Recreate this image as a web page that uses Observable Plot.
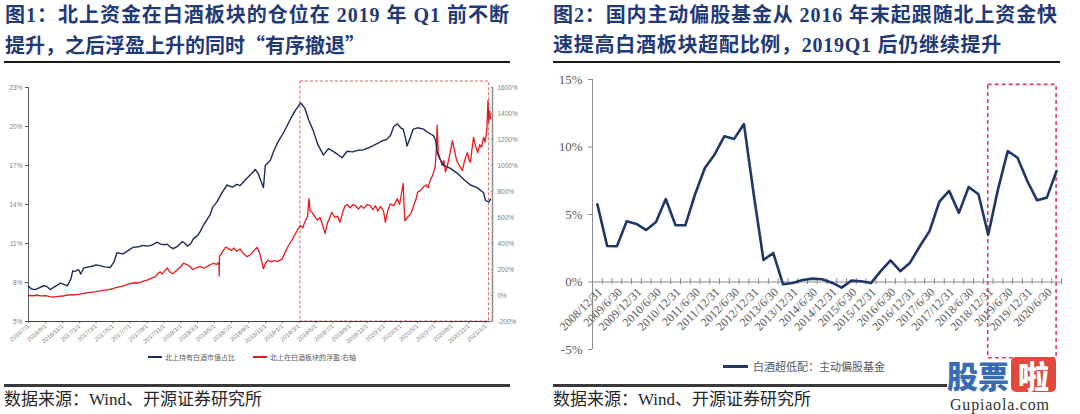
<!DOCTYPE html>
<html><head><meta charset="utf-8">
<script src="https://cdn.jsdelivr.net/npm/d3@7"></script>
<script src="https://cdn.jsdelivr.net/npm/@observablehq/plot@0.6"></script>
<style>
body{margin:0;background:#fff}
#root{position:relative;width:1080px;height:414px;overflow:hidden;background:#fff}
.abs{position:absolute}
.t{position:absolute;white-space:nowrap;font-family:"Liberation Serif","Noto Sans CJK SC",serif;font-weight:700;font-size:20px;line-height:24px;color:#1f3a76}
.cjk{font-family:"Noto Sans CJK SC",sans-serif}
.rule{position:absolute;background:#1a1a1a}
.src{position:absolute;white-space:nowrap;font-family:"Liberation Serif","Noto Sans CJK SC",serif;font-size:17px;line-height:20px;color:#262626}
.lg{position:absolute;white-space:nowrap;font-family:"Noto Sans CJK SC",sans-serif;color:#595959}
</style></head>
<body><div id="root">
<span class="t fit" data-w="505" style="left:5px;top:3px">图1：北上资金在白酒板块的仓位在 2019 年 Q1 前不断</span>
<span class="t fit" data-w="360" style="left:5px;top:33px">提升，之后浮盈上升的同时<span class="cjk">“</span>有序撤退<span class="cjk">”</span></span>
<span class="t fit" data-w="505" style="left:553px;top:3px">图2：国内主动偏股基金从 2016 年末起跟随北上资金快</span>
<span class="t fit" data-w="449" style="left:553px;top:33px">速提高白酒板块超配比例，2019Q1 后仍继续提升</span>
<div class="rule" style="left:4px;top:61px;width:506px;height:2px"></div>
<div class="rule" style="left:553px;top:61px;width:507px;height:2px"></div>
<div id="left" class="abs" style="left:0;top:70px"></div>
<div id="right" class="abs" style="left:540px;top:70px"></div>
<div class="abs" style="left:148px;top:356px;width:14px;height:1.5px;background:#1c2b5a"></div>
<span class="lg" style="left:165px;top:351px;font-size:7px;line-height:12px">北上持有白酒市值占比</span>
<div class="abs" style="left:253px;top:356px;width:14px;height:1.5px;background:#e8191c"></div>
<span class="lg" style="left:270px;top:351px;font-size:7px;line-height:12px">北上在白酒板块的浮盈:右轴</span>
<div class="abs" style="left:723px;top:365px;width:25px;height:3px;background:#1f3868"></div>
<span class="lg" style="left:753px;top:359px;font-size:11px;line-height:14px">白酒超低配：主动偏股基金</span>
<div class="rule" style="left:4px;top:384px;width:506px;height:2.5px;background:#3a3a3a"></div>
<div class="rule" style="left:553px;top:384px;width:394px;height:2.5px;background:#3a3a3a"></div>
<span class="src" style="left:4px;top:390px">数据来源：Wind、开源证券研究所</span>
<span class="src" style="left:553px;top:390px">数据来源：Wind、开源证券研究所</span>
<div class="abs" style="left:947px;top:357px;height:36px;white-space:nowrap;font-family:'Noto Sans CJK SC';font-weight:900;font-size:31px;line-height:36px;color:#3a6cb3">股票<span style="display:inline-block;background:#e2493c;color:#fff;border-radius:5px;width:45px;height:35px;line-height:35px;text-align:center;margin-left:2px;vertical-align:top">啦</span></div>
<span class="abs" style="left:950px;top:396px;white-space:nowrap;font-family:'Liberation Serif';font-size:16px;line-height:17px;color:#333;letter-spacing:0.8px">Gupiaola.com</span>
</div>
<script>
// ---------- Figure 1 data ----------
const blueDates = ["2016-07-01","2016-07-12","2016-07-25","2016-08-10","2016-08-25","2016-09-05","2016-09-18","2016-10-01","2016-10-24","2016-11-05","2016-11-18","2016-12-01","2016-12-07","2016-12-15","2016-12-28","2017-01-05","2017-01-15","2017-02-01","2017-02-15","2017-03-01","2017-03-15","2017-04-01","2017-04-21","2017-05-05","2017-05-15","2017-05-25","2017-06-06","2017-06-20","2017-07-12","2017-08-01","2017-08-18","2017-09-05","2017-09-20","2017-10-06","2017-10-20","2017-11-01","2017-11-12","2017-11-25","2017-12-04","2017-12-20","2018-01-06","2018-01-15","2018-01-24","2018-02-05","2018-02-15","2018-03-01","2018-03-10","2018-03-25","2018-04-15","2018-04-25","2018-05-10","2018-05-25","2018-06-15","2018-06-25","2018-07-07","2018-07-20","2018-08-01","2018-08-12","2018-08-25","2018-09-08","2018-09-18","2018-09-24","2018-10-05","2018-10-15","2018-10-24","2018-10-31","2018-11-18","2018-11-30","2018-12-15","2019-01-04","2019-01-30","2019-02-15","2019-03-06","2019-03-12","2019-03-22","2019-04-05","2019-04-21","2019-05-08","2019-05-28","2019-06-15","2019-07-01","2019-07-15","2019-08-03","2019-08-21","2019-09-10","2019-09-25","2019-10-18","2019-11-10","2019-12-09","2019-12-25","2020-01-10","2020-01-24","2020-02-05","2020-02-18","2020-03-01","2020-03-10","2020-03-18","2020-03-24","2020-04-05","2020-04-15","2020-05-01","2020-05-22","2020-06-10","2020-06-27","2020-07-05","2020-07-10","2020-07-20","2020-08-03","2020-08-25","2020-09-21","2020-10-15","2020-11-07","2020-12-01","2020-12-24","2020-12-31","2021-01-12","2021-01-18"];
const blueValues = [7.7,7.5,7.45,7.6,7.75,7.7,7.45,7.65,7.95,7.85,7.75,8.3,8.9,8.85,9.0,8.65,9.1,9.2,9.25,9.35,9.3,9.2,9.15,9.6,10.3,10.25,10.2,10.4,10.7,10.75,10.85,10.8,10.9,11.1,10.95,10.9,10.95,10.7,10.6,10.8,11.15,11.0,10.8,11.0,11.4,11.6,11.9,12.5,13.2,13.8,14.2,14.8,15.5,15.4,15.35,15.55,15.45,15.7,16.0,16.3,16.5,16.7,16.4,15.8,15.3,17.0,17.4,18.1,18.8,19.5,20.6,21.2,21.8,21.7,21.4,20.5,19.7,18.6,17.8,18.3,18.1,17.9,17.6,18.1,18.05,18.15,18.2,18.4,18.7,18.9,19.0,19.3,20.0,20.2,19.9,19.8,19.1,18.5,19.2,19.8,19.9,19.8,19.5,19.3,18.9,18.0,17.5,17.0,16.8,16.4,15.9,15.5,15.3,14.9,14.3,14.2,14.4];

const redDates = ["2016-07-01","2016-07-15","2016-08-01","2016-08-15","2016-09-01","2016-09-15","2016-10-01","2016-10-15","2016-11-01","2016-11-15","2016-12-01","2016-12-15","2017-01-01","2017-01-15","2017-02-01","2017-02-15","2017-03-01","2017-03-15","2017-04-01","2017-04-15","2017-05-01","2017-05-15","2017-06-01","2017-06-15","2017-07-01","2017-07-15","2017-08-01","2017-08-15","2017-09-01","2017-09-15","2017-10-01","2017-10-10","2017-10-18","2017-10-25","2017-11-05","2017-11-12","2017-11-20","2017-12-01","2017-12-15","2018-01-01","2018-01-10","2018-01-20","2018-02-01","2018-02-12","2018-02-25","2018-03-10","2018-03-25","2018-04-10","2018-04-27","2018-05-10","2018-05-17","2018-05-18","2018-05-19","2018-05-28","2018-06-10","2018-06-20","2018-07-01","2018-07-10","2018-07-20","2018-08-01","2018-08-10","2018-08-20","2018-08-27","2018-09-10","2018-09-20","2018-10-01","2018-10-10","2018-10-18","2018-10-24","2018-11-01","2018-11-10","2018-11-20","2018-12-01","2018-12-15","2018-12-30","2019-01-10","2019-01-20","2019-01-30","2019-02-15","2019-02-25","2019-03-06","2019-03-15","2019-03-22","2019-04-01","2019-04-06","2019-04-10","2019-04-17","2019-04-25","2019-05-06","2019-05-16","2019-05-25","2019-06-03","2019-06-12","2019-06-20","2019-06-28","2019-07-08","2019-07-18","2019-07-27","2019-08-05","2019-08-14","2019-08-21","2019-09-01","2019-09-12","2019-09-20","2019-10-01","2019-10-10","2019-10-20","2019-11-01","2019-11-13","2019-11-22","2019-12-01","2019-12-10","2019-12-19","2019-12-30","2020-01-06","2020-01-14","2020-01-24","2020-02-05","2020-02-18","2020-02-26","2020-03-05","2020-03-10","2020-03-13","2020-03-16","2020-03-25","2020-04-06","2020-04-15","2020-04-25","2020-05-01","2020-05-12","2020-05-22","2020-06-01","2020-06-08","2020-06-15","2020-06-25","2020-07-03","2020-07-08","2020-07-10","2020-07-14","2020-07-21","2020-07-28","2020-08-03","2020-08-09","2020-08-16","2020-08-24","2020-09-03","2020-09-10","2020-09-16","2020-09-21","2020-09-28","2020-10-09","2020-10-16","2020-10-22","2020-10-27","2020-11-02","2020-11-07","2020-11-12","2020-11-18","2020-11-25","2020-12-03","2020-12-10","2020-12-17","2020-12-24","2020-12-30","2021-01-05","2021-01-09","2021-01-12","2021-01-15","2021-01-18"];
const redValues = [0,-2,2,-3,-1,-8,-12,-6,-4,2,6,4,10,16,22,26,30,36,42,46,52,62,70,80,92,98,96,108,118,132,145,170,182,165,195,212,185,168,190,225,248,240,225,200,215,222,210,230,248,240,255,150,300,330,372,362,345,365,340,358,330,310,298,320,345,370,330,260,205,250,272,258,268,262,280,330,375,410,470,510,538,520,565,610,745,650,640,615,580,600,540,478,560,600,640,600,610,562,640,690,700,675,700,690,665,690,670,700,690,660,690,650,685,650,562,650,705,690,745,700,800,862,700,575,600,628,680,740,795,810,836,850,830,885,930,990,1150,1310,1100,1050,1000,1040,950,1000,1080,1192,1120,1060,1025,1000,960,1030,1070,1100,1040,1025,1120,1217,1150,1100,1160,1140,1217,1180,1280,1500,1330,1420,1360];

const leftTickLabels = ["2016/7/1","2016/9/1","2016/11/1","2017/1/1","2017/3/1","2017/5/1","2017/7/1","2017/9/1","2017/11/1","2018/1/1","2018/3/1","2018/5/1","2018/7/1","2018/9/1","2018/11/1","2019/1/1","2019/3/1","2019/5/1","2019/7/1","2019/9/1","2019/11/1","2020/1/1","2020/3/1","2020/5/1","2020/7/1","2020/9/1","2020/11/1","2021/1/1"];
const leftAxisTicks = [5, 8, 11, 14, 17, 20, 23];          // 左轴 %
const rightAxisTicks = [-200, 0, 200, 400, 600, 800, 1000, 1200, 1400, 1600]; // 右轴 %
const leftDomainDates = ["2016-07-01", "2021-01-18"];
const leftBox = {from: "2019-03-06", to: "2021-01-13"};

// ---------- Figure 2 data ----------
const quarters = ["2008/12/31","2009/3/31","2009/6/30","2009/9/30","2009/12/31","2010/3/31","2010/6/30","2010/9/30","2010/12/31","2011/3/31","2011/6/30","2011/9/30","2011/12/31","2012/3/31","2012/6/30","2012/9/30","2012/12/31","2013/3/31","2013/6/30","2013/9/30","2013/12/31","2014/3/31","2014/6/30","2014/9/30","2014/12/31","2015/3/31","2015/6/30","2015/9/30","2015/12/31","2016/3/31","2016/6/30","2016/9/30","2016/12/31","2017/3/31","2017/6/30","2017/9/30","2017/12/31","2018/3/31","2018/6/30","2018/9/30","2018/12/31","2019/3/31","2019/6/30","2019/9/30","2019/12/31","2020/3/31","2020/6/30","2020/9/30"];
const overweight = [5.75,2.67,2.65,4.5,4.3,3.85,4.45,6.15,4.2,4.2,6.5,8.45,9.45,10.8,10.6,11.7,6.5,1.63,2.15,-0.17,-0.07,0.15,0.25,0.2,-0.05,-0.42,0.1,0.05,-0.08,0.8,1.6,0.8,1.43,2.65,3.78,5.95,6.75,5.12,7.04,6.5,3.5,6.86,9.7,9.2,7.48,6.05,6.25,8.22];
const rightAxisTicksR = [-5, 0, 5, 10, 15];
const rightBox = {from: "2018/12/31", to: "2020/9/30", top: 14.6, bottom: -5.65};

// ---------- build ----------
const parseD = d3.utcParse("%Y-%m-%d");
const parseSlash = d3.utcParse("%Y/%m/%d");
const blue = blueDates.map((d, i) => ({date: parseD(d), v: blueValues[i]}));
const toLeft = v => 7 + v / 100; // 右轴 -200..1600 -> 左轴 5..23
const red = redDates.map((d, i) => ({date: parseD(d), v: toLeft(redValues[i])}));
const tickDates = leftTickLabels.map(parseSlash);
const labelOf = new Map(leftTickLabels.map((l, i) => [+tickDates[i], l]));
const xDom = leftDomainDates.map(parseD);
const yMin = leftAxisTicks[0], yMax = leftAxisTicks[leftAxisTicks.length - 1];

const left = Plot.plot({
  width: 540, height: 300,
  marginLeft: 28, marginRight: 50, marginTop: 17, marginBottom: 49,
  x: {type: "utc", domain: xDom},
  y: {domain: [yMin, yMax]},
  style: {background: "transparent", overflow: "visible", fontFamily: "'Liberation Sans', 'Noto Sans CJK SC', sans-serif"},
  marks: [
    Plot.rect([{x1: parseD(leftBox.from), x2: parseD(leftBox.to), y1: yMin, y2: 23.46}],
      {x1: "x1", x2: "x2", y1: "y1", y2: "y2", fill: "none", stroke: "#e0605e", strokeWidth: 1, strokeDasharray: "3,2"}),
    Plot.ruleX([xDom[0]], {stroke: "#595959", strokeWidth: 1}),
    Plot.ruleX([xDom[1]], {stroke: "#8c8c8c", strokeWidth: 1.5, dx: 2}),
    Plot.line(red, {x: "date", y: "v", stroke: "#e8191c", strokeWidth: 1.3}),
    Plot.line(blue, {x: "date", y: "v", stroke: "#1c2b5a", strokeWidth: 1.4}),
    Plot.ruleY([yMin], {stroke: "#404040", strokeWidth: 1}),
    Plot.axisY({anchor: "left", ticks: leftAxisTicks, tickFormat: d => d + "%", tickSize: 3, tickPadding: 3, fontSize: 6.5, fill: "#7f7f7f", stroke: "#595959"}),
    Plot.axisY({anchor: "right", ticks: rightAxisTicks.map(toLeft), tickFormat: d => Math.round((d - 7) * 100) + "%", tickSize: 2, tickPadding: 5, fontSize: 6.5, fill: "#7f7f7f", stroke: "#8c8c8c"}),
    Plot.axisX({ticks: tickDates, tickFormat: d => labelOf.get(+d), tickRotate: -40, tickSize: 2, tickPadding: 2, fontSize: 6, fill: "#7f7f7f", stroke: "#595959"})
  ]
});
document.getElementById("left").appendChild(left);

const rows = quarters.map((q, i) => ({i, q, v: overweight[i]}));
const boundaries = [-0.5, ...quarters.map((q, i) => i + 0.5)];
const shown = rows.filter(r => r.i % 2 === 0);
const n = quarters.length;
const right = Plot.plot({
  width: 540, height: 300,
  marginLeft: 52, marginRight: 19, marginTop: 9, marginBottom: 21,
  x: {domain: [-0.5, n - 0.5], axis: null},
  y: {domain: [rightAxisTicksR[0], rightAxisTicksR[rightAxisTicksR.length - 1]], axis: null},
  style: {background: "transparent", overflow: "visible", fontFamily: "'Liberation Serif', serif"},
  marks: [
    Plot.ruleX([-0.5], {stroke: "#8c8c8c", strokeWidth: 1}),
    Plot.axisY({anchor: "left", ticks: rightAxisTicksR, tickFormat: d => d + "%", tickSize: 4, tickPadding: 6, fontSize: 13, fill: "#595959", stroke: "#8c8c8c"}),
    Plot.ruleY([0], {stroke: "#8c8c8c", strokeWidth: 1}),
    Plot.ruleX(boundaries, {x: d => d, y1: -0.2, y2: 0.25, stroke: "#8c8c8c"}),
    Plot.text(shown, {x: "i", y: 0, text: "q", rotate: -45, textAnchor: "end", dy: 8, dx: 3, fontSize: 12, fill: "#595959"}),
    Plot.rect([{x1: quarters.indexOf(rightBox.from), x2: quarters.indexOf(rightBox.to), y1: rightBox.bottom, y2: rightBox.top}],
      {x1: "x1", x2: "x2", y1: "y1", y2: "y2", fill: "none", stroke: "#d8405f", strokeWidth: 1.6, strokeDasharray: "4,3"}),
    Plot.line(rows, {x: "i", y: "v", stroke: "#1f3868", strokeWidth: 2.6, strokeLinejoin: "round"})
  ]
});
document.getElementById("right").appendChild(right);

// fit title lines to their justified widths
document.querySelectorAll(".fit").forEach(el => {
  const target = +el.dataset.w;
  const w = el.getBoundingClientRect().width;
  const count = [...el.textContent].length;
  el.style.letterSpacing = ((target - w) / count) + "px";
});
</script>
</body></html>
